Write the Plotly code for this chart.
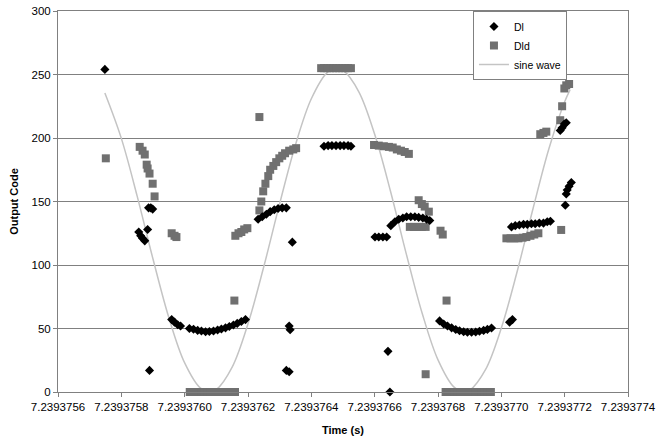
import plotly.graph_objects as go

BASE_T = 7.2393756  # seconds; offsets below are in nanoseconds

x_tick_labels = ["7.2393756", "7.2393758", "7.2393760", "7.2393762", "7.2393764",
                 "7.2393766", "7.2393768", "7.2393770", "7.2393772", "7.2393774"]
y_tick_vals = [0, 50, 100, 150, 200, 250, 300]

# Dl series (black diamonds)
dl_t_ns = [148,
           255, 261, 267, 274, 283,
           286, 293, 299,
           289,
           359, 368, 378, 387,
           415, 428, 441, 453, 466, 478, 491, 504, 516, 529, 541, 554, 566, 579, 592,
           632, 645, 658, 670, 683, 695, 708, 721,
           730, 733, 721, 730,
           740,
           840, 853, 865, 878, 891, 903, 916, 925,
           1001, 1013, 1026, 1038,
           1042, 1048,
           1051, 1064, 1076, 1089, 1101, 1114, 1127, 1139, 1152, 1164, 1174,
           1205, 1218, 1230, 1243, 1256, 1268, 1281, 1293, 1306, 1319, 1331, 1344, 1356, 1369,
           1426, 1435,
           1432, 1444, 1457, 1470, 1482, 1495, 1507, 1520, 1533, 1545, 1555,
           1602, 1605, 1608, 1614, 1621,
           1586, 1592, 1599, 1605]
dl_code = [254,
           126, 123, 121, 119, 128,
           145, 145, 144,
           17,
           57, 55, 53, 52,
           50, 49.4, 48.5, 48, 47.5, 47.6, 48, 48.8, 49.6, 50.5, 51.6, 52.8, 54, 55.5, 57,
           136, 138, 140, 142, 143.5, 144.5, 145, 145,
           52, 49, 17, 16,
           118,
           193.5, 194, 194, 194, 194, 194, 194, 193.5,
           122, 122, 122, 122,
           32, 0,
           131, 134, 136, 137, 138, 138, 138, 137.5, 137, 136, 135,
           56, 53.5, 52, 50.5, 49.2, 48.2, 47.5, 47, 47, 47.3, 47.8, 48.5, 49.3, 50.4,
           55, 57,
           130, 131, 131.5, 132, 132, 132.5, 132.5, 133, 133, 134, 134.5,
           147, 156, 159, 162, 165,
           206, 208, 211, 212]

# Dld series (grey squares)
dld_t_ns = [151,
            636,
            258, 267, 274, 280, 283, 289, 299, 305,
            359, 368, 374,
            560, 570, 579, 588, 598,
            636, 642, 648, 655, 664, 670, 680, 689, 699, 708, 717, 730, 743, 752,
            557,
            416, 426, 435, 445, 454, 464, 473, 483, 492, 502, 511, 521, 530, 540, 549, 559,
            831, 840, 850, 859, 869, 878, 888, 897, 907, 916, 925,
            998, 1013, 1029, 1045, 1057, 1070, 1083, 1095, 1108,
            1139, 1149, 1158, 1171,
            1111, 1124, 1136, 1149, 1161,
            1208, 1215,
            1227, 1161,
            1224, 1234, 1243, 1253, 1262, 1272, 1281, 1291, 1300, 1310, 1319, 1329, 1338, 1348, 1357, 1367,
            1416, 1429, 1441, 1454, 1467, 1479, 1492, 1504, 1517,
            1589,
            1523, 1533, 1542,
            1586, 1592, 1599, 1605, 1614]
dld_code = [184,
            216.5,
            193, 190, 187, 179, 176, 172, 164, 154,
            125, 123, 122,
            123, 125, 126, 128, 129,
            143, 150, 158, 164, 170, 175, 178, 181, 184, 186, 188, 190, 191, 192,
            72,
            0, 0, 0, 0, 0, 0, 0, 0, 0, 0, 0, 0, 0, 0, 0, 0,
            255, 255, 255, 255, 255, 255, 255, 255, 255, 255, 255,
            194.5, 194, 193.5, 193, 192.5, 191, 190, 189, 187.5,
            151, 148, 146, 142,
            130, 130, 130, 130, 130,
            127, 124,
            72, 14,
            0, 0, 0, 0, 0, 0, 0, 0, 0, 0, 0, 0, 0, 0, 0, 0,
            121, 121, 121, 121, 121.5, 122, 123, 124, 125,
            127.6,
            203, 204, 205,
            214, 225, 239, 241.5, 242.5]

# sine wave (light grey line)
sine_t_ns = [148, 200, 250, 300, 350, 400, 450, 478, 500, 550, 600, 650, 700, 750, 800,
             850, 880, 900, 950, 1000, 1050, 1100, 1150, 1200, 1250, 1282, 1300, 1350,
             1400, 1450, 1500, 1550, 1600, 1617]
sine_code = [235.4, 199.7, 154.2, 104.7, 58.6, 22.9, 3.0, 0, 1.9, 19.6, 53.7, 98.8, 148.3,
             194.7, 230.9, 251.5, 255, 253.4, 236.4, 202.9, 158.1, 108.6, 62.0, 25.3, 4.0,
             0, 1.3, 17.6, 50.4, 94.9, 144.3, 191.3, 228.5, 237.9]


def to_time(ns_list):
    return [BASE_T + v * 1e-9 for v in ns_list]


FONT = "Liberation Sans, Arial, sans-serif"

fig = go.Figure()
fig.add_trace(go.Scatter(
    x=to_time(sine_t_ns), y=sine_code, mode="lines", name="sine wave",
    line=dict(color="#c4c4c4", width=1.5, shape="spline"), cliponaxis=False,
))
fig.add_trace(go.Scatter(
    x=to_time(dld_t_ns), y=dld_code, mode="markers", name="Dld",
    marker=dict(symbol="square", size=8, color="#707070"), cliponaxis=False,
))
fig.add_trace(go.Scatter(
    x=to_time(dl_t_ns), y=dl_code, mode="markers", name="Dl",
    marker=dict(symbol="diamond", size=7, color="#000000"), cliponaxis=False,
))

fig.update_layout(
    width=668, height=440,
    margin=dict(l=58, r=40, t=11, b=48),
    paper_bgcolor="white", plot_bgcolor="white",
    font=dict(family=FONT, size=11, color="black"),
    hovermode=False,
    showlegend=True,
    legend=dict(
        x=0.728, y=1.0, xanchor="left", yanchor="top",
        bgcolor="white", bordercolor="#808080", borderwidth=1,
        font=dict(family=FONT, size=10.5, color="black"),
        traceorder="reversed", itemwidth=30, tracegroupgap=0,
    ),
)
fig.update_xaxes(
    range=[float(x_tick_labels[0]), float(x_tick_labels[-1])],
    tickmode="array", tickvals=[float(s) for s in x_tick_labels], ticktext=x_tick_labels,
    showgrid=False, zeroline=False, automargin=False,
    showline=True, linecolor="#808080", linewidth=1, mirror=True,
    ticks="outside", ticklen=4, tickcolor="#808080",
    tickfont=dict(family=FONT, size=11.5, color="black"),
    title=dict(text="<b>Time (s)</b>", font=dict(family=FONT, size=11, color="black"), standoff=14),
)
fig.update_yaxes(
    range=[0, 300], tickmode="array", tickvals=y_tick_vals,
    showgrid=True, gridcolor="#808080", gridwidth=1, zeroline=False, automargin=False,
    showline=True, linecolor="#808080", linewidth=1, mirror=True,
    ticks="outside", ticklen=4, tickcolor="#808080",
    tickfont=dict(family=FONT, size=11.5, color="black"),
    ticklabeloverflow="allow",
    title=dict(text="<b>Output Code</b>", font=dict(family=FONT, size=11, color="black"), standoff=10),
)

# remove the browser's default 8px body margin so the figure sits at the page origin
fig.write_html("out.html", config={"displayModeBar": False},
               post_script="document.body.style.margin='0px';")
